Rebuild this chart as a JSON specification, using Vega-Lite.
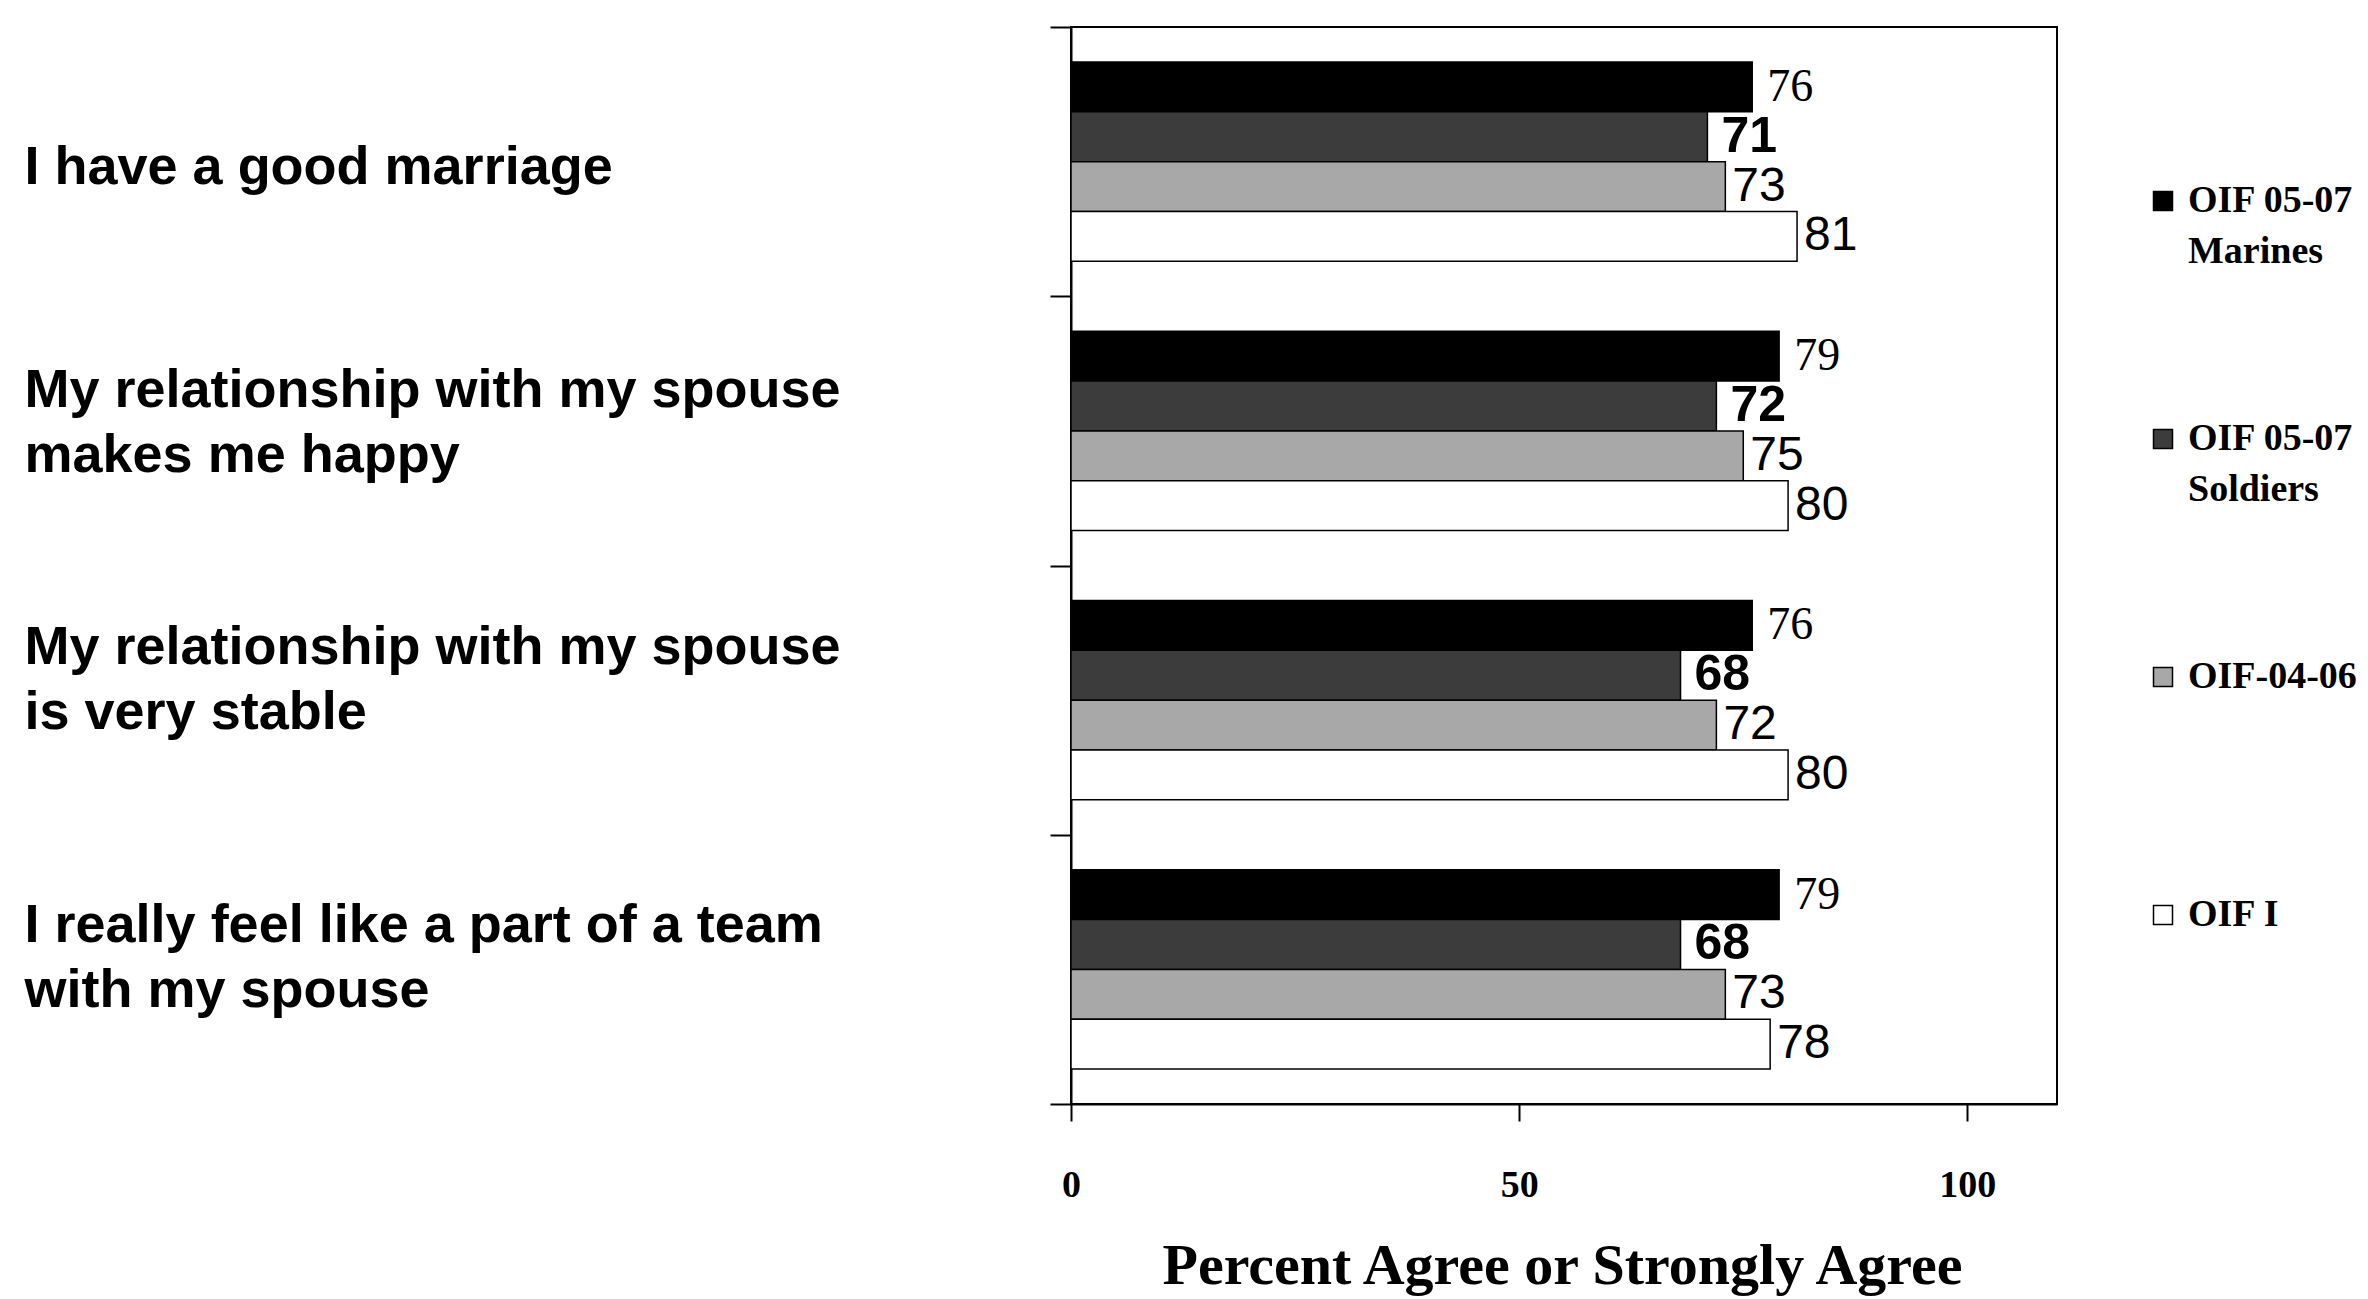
{
  "$schema": "https://vega.github.io/schema/vega-lite/v6.json",
  "width": 986,
  "height": 1077,
  "autosize": {"type": "none"},
  "padding": {"left": 1071, "top": 27, "right": 311, "bottom": 195},
  "background": "white",
  "config": {
    "view": {"stroke": "black", "strokeWidth": 2},
    "style": {"guide-label": {"lineHeight": 51}}
  },
  "data": {
    "values": [
      {"q": "I have a good marriage", "series": "OIF 05-07 Marines", "v": 76},
      {"q": "I have a good marriage", "series": "OIF 05-07 Soldiers", "v": 71},
      {"q": "I have a good marriage", "series": "OIF-04-06", "v": 73},
      {"q": "I have a good marriage", "series": "OIF I", "v": 81},
      {"q": "My relationship with my spouse makes me happy", "series": "OIF 05-07 Marines", "v": 79},
      {"q": "My relationship with my spouse makes me happy", "series": "OIF 05-07 Soldiers", "v": 72},
      {"q": "My relationship with my spouse makes me happy", "series": "OIF-04-06", "v": 75},
      {"q": "My relationship with my spouse makes me happy", "series": "OIF I", "v": 80},
      {"q": "My relationship with my spouse is very stable", "series": "OIF 05-07 Marines", "v": 76},
      {"q": "My relationship with my spouse is very stable", "series": "OIF 05-07 Soldiers", "v": 68},
      {"q": "My relationship with my spouse is very stable", "series": "OIF-04-06", "v": 72},
      {"q": "My relationship with my spouse is very stable", "series": "OIF I", "v": 80},
      {"q": "I really feel like a part of a team with my spouse", "series": "OIF 05-07 Marines", "v": 79},
      {"q": "I really feel like a part of a team with my spouse", "series": "OIF 05-07 Soldiers", "v": 68},
      {"q": "I really feel like a part of a team with my spouse", "series": "OIF-04-06", "v": 73},
      {"q": "I really feel like a part of a team with my spouse", "series": "OIF I", "v": 78}
    ]
  },
  "encoding": {
    "y": {
      "field": "q",
      "type": "nominal",
      "scale": {
        "domain": ["I have a good marriage", "My relationship with my spouse makes me happy", "My relationship with my spouse is very stable", "I really feel like a part of a team with my spouse"],
        "paddingInner": 0,
        "paddingOuter": 0
      },
      "axis": {
        "title": null,
        "tickBand": "extent",
        "tickSize": 21,
        "tickWidth": 2,
        "tickColor": "black",
        "domainColor": "black",
        "domainWidth": 2,
        "labelAlign": "left",
        "labelBaseline": "middle",
        "labelPadding": 1026,
        "labelLimit": 0,
        "labelFont": "Liberation Sans",
        "labelFontSize": 54,
        "labelFontWeight": "bold",
        "labelColor": "black",
        "labelLineHeight": 65,
        "labelOffset": {"expr": "datum.value == 'I have a good marriage' ? 6 : datum.value == 'My relationship with my spouse is very stable' ? -53 : datum.value == 'I really feel like a part of a team with my spouse' ? -44 : -40"},
        "labelExpr": "datum.label == 'My relationship with my spouse makes me happy' ? ['My relationship with my spouse', 'makes me happy'] : datum.label == 'My relationship with my spouse is very stable' ? ['My relationship with my spouse', 'is very stable'] : datum.label == 'I really feel like a part of a team with my spouse' ? ['I really feel like a part of a team', 'with my spouse'] : datum.label"
      }
    },
    "yOffset": {
      "field": "series",
      "type": "nominal",
      "scale": {
        "domain": ["OIF 05-07 Marines", "OIF 05-07 Soldiers", "OIF-04-06", "OIF I"],
        "paddingInner": 0,
        "paddingOuter": 0.7
      }
    },
    "x": {
      "field": "v",
      "type": "quantitative",
      "scale": {"domain": [0, 110], "nice": false},
      "axis": {
        "values": [0, 50, 100],
        "grid": false,
        "tickSize": 17,
        "tickWidth": 2,
        "tickColor": "black",
        "domainColor": "black",
        "domainWidth": 2,
        "labelFlush": false,
        "labelFont": "Liberation Serif",
        "labelFontSize": 38,
        "labelFontWeight": "bold",
        "labelColor": "black",
        "labelPadding": 45,
        "title": "Percent Agree or Strongly Agree",
        "titleFont": "Liberation Serif",
        "titleFontSize": 58,
        "titleFontWeight": "bold",
        "titleColor": "black",
        "titleBaseline": "middle",
        "titleX": 491,
        "titleY": 162
      }
    }
  },
  "layer": [
    {
      "mark": {"type": "bar", "stroke": "black", "strokeWidth": 1.5},
      "encoding": {
        "fill": {
          "field": "series",
          "type": "nominal",
          "scale": {
            "domain": ["OIF 05-07 Marines", "OIF 05-07 Soldiers", "OIF-04-06", "OIF I"],
            "range": ["#000000", "#3c3c3c", "#a8a8a8", "#ffffff"]
          },
          "legend": {
            "orient": "none",
            "legendX": 1073,
            "legendY": 155,
            "title": null,
            "padding": 0,
            "symbolType": "square",
            "symbolSize": 361,
            "symbolStrokeColor": "black",
            "symbolStrokeWidth": 1.5,
            "labelFont": "Liberation Serif",
            "labelFontSize": 38,
            "labelFontWeight": "bold",
            "labelColor": "black",
            "labelBaseline": "middle",
            "labelOffset": 6,
            "labelLimit": 0,
            "gridAlign": "all",
            "rowPadding": 149,
            "labelExpr": "indexof(datum.label, '05-07') >= 0 ? ['OIF 05-07', replace(datum.label, 'OIF 05-07 ', '')] : datum.label"
          }
        }
      }
    },
    {
      "transform": [{"filter": "datum.series == 'OIF 05-07 Marines'"}],
      "mark": {"type": "text", "align": "left", "baseline": "middle", "dx": 15, "font": "Liberation Serif", "fontSize": 46, "color": "black"},
      "encoding": {"text": {"field": "v", "type": "quantitative"}}
    },
    {
      "transform": [{"filter": "datum.series == 'OIF 05-07 Soldiers'"}],
      "mark": {"type": "text", "align": "left", "baseline": "middle", "dx": 14, "font": "Liberation Sans", "fontSize": 50, "fontWeight": "bold", "color": "black"},
      "encoding": {"text": {"field": "v", "type": "quantitative"}}
    },
    {
      "transform": [{"filter": "datum.series == 'OIF-04-06' || datum.series == 'OIF I'"}],
      "mark": {"type": "text", "align": "left", "baseline": "middle", "dx": 7, "font": "Liberation Sans", "fontSize": 48, "color": "black"},
      "encoding": {"text": {"field": "v", "type": "quantitative"}}
    }
  ]
}
